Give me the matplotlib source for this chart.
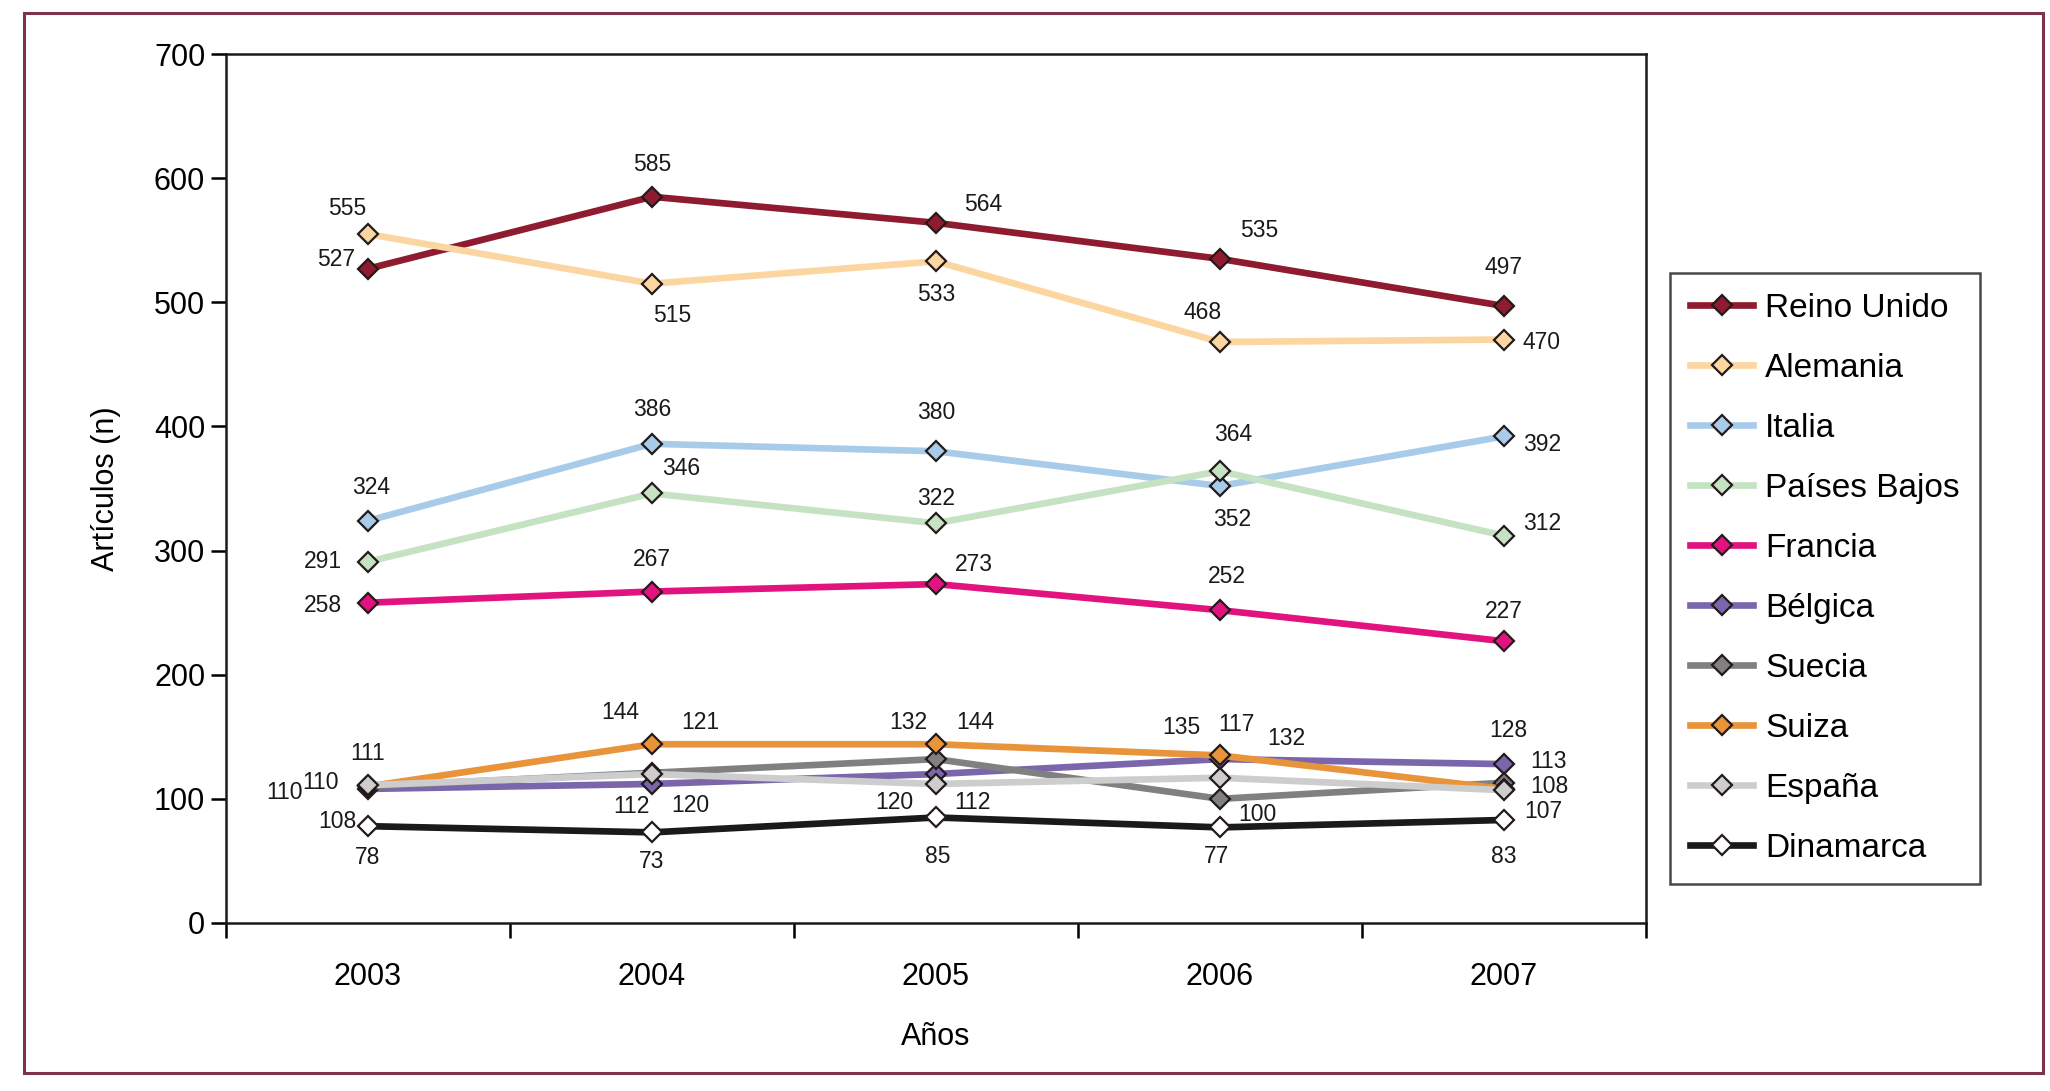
import matplotlib
matplotlib.use("Agg")
import matplotlib.pyplot as plt
from matplotlib import font_manager
from matplotlib.patches import Rectangle

# ---------------- data ----------------
years = ["2003", "2004", "2005", "2006", "2007"]
series_names = ["Reino Unido", "Alemania", "Italia", "Países Bajos", "Francia",
                "Bélgica", "Suecia", "Suiza", "España", "Dinamarca"]
reino_unido = [527, 585, 564, 535, 497]
alemania = [555, 515, 533, 468, 470]
italia = [324, 386, 380, 352, 392]
paises_bajos = [291, 346, 322, 364, 312]
francia = [258, 267, 273, 252, 227]
belgica = [108, 112, 120, 132, 128]
suecia = [110, 121, 132, 100, 113]
suiza = [110, 144, 144, 135, 108]
espana = [111, 120, 112, 117, 107]
dinamarca = [78, 73, 85, 77, 83]
y_ticks = [0, 100, 200, 300, 400, 500, 600, 700]

values = [reino_unido, alemania, italia, paises_bajos, francia,
          belgica, suecia, suiza, espana, dinamarca]

# ---------------- style ----------------
colors = ["#8E1B30", "#FBD6A0", "#A9CBEA", "#C5E3C3", "#E2127F",
          "#7B66AE", "#808080", "#E8943A", "#CDCDCD", "#1A1A1A"]
face = colors[:9] + ["#FFFFFF"]

# label offsets in pixels (dx, dy up)
offsets = [
    [(-32, 9), (0, 32), (47, 18), (39, 28), (0, 39)],
    [(-21, 26), (20, -32), (0, -33), (-17, 30), (38, -3)],
    [(3, 33), (0, 34), (0, 39), (12, -33), (38, -8)],
    [(-45, 0), (29, 25), (0, 25), (13, 37), (38, 12)],
    [(-45, -3), (0, 32), (38, 20), (7, 34), (0, 30)],
    [(-31, -33), (-21, -23), (-42, -28), (66, 21), (4, 34)],
    [(-47, 4), (48, 50), (-28, 37), (37, -16), (45, 21)],
    [(-84, -6), (-32, 32), (39, 22), (-39, 28), (45, 2)],
    [(0, 32), (38, -31), (36, -19), (16, 53), (39, -21)],
    [(0, -31), (0, -29), (2, -39), (-3, -29), (0, -37)],
]

avail = {f.name for f in font_manager.fontManager.ttflist}
fam = "Liberation Sans Narrow" if "Liberation Sans Narrow" in avail else "Liberation Sans"
plt.rcParams["font.family"] = [fam, "DejaVu Sans"]

fig = plt.figure(figsize=(20.5, 10.91), dpi=100)
ax = fig.add_axes([226 / 2050, 1 - 923 / 1091, (1646 - 226) / 2050, (923 - 54) / 1091])

x = list(range(len(years)))
for name, vals, c, fc, offs in zip(series_names, values, colors, face, offsets):
    ax.plot(x, vals, color=c, lw=4.8, marker="D", ms=10.5, mfc=fc,
            mec="#231a1a", mew=1.6, label=name, solid_joinstyle="round")
    for xi, v, (dx, dy) in zip(x, vals, offs):
        ax.annotate(str(v), (xi, v), xytext=(dx, dy), textcoords="offset pixels",
                    ha="center", va="center", fontsize=16.5, color="#1a1a1a")

ax.set_xlim(-0.5, len(years) - 0.5)
ax.set_ylim(0, 700)
ax.set_yticks(y_ticks)
ax.set_yticklabels([str(t) for t in y_ticks], fontsize=22)
ax.set_xticks(x)
ax.set_xticklabels(years, fontsize=22)
ax.tick_params(axis="x", which="major", length=0, pad=28)
ax.set_xticks([i - 0.5 for i in range(len(years) + 1)], minor=True)
ax.tick_params(axis="x", which="minor", length=11, width=1.8, direction="out")
ax.tick_params(axis="y", length=11, width=1.8, direction="out", pad=4)
for s in ax.spines.values():
    s.set_linewidth(1.8)
    s.set_color("#1a1a1a")

ax.set_xlabel("Años", fontsize=22, labelpad=22)
ax.set_ylabel("Artículos (n)", fontsize=22, labelpad=24)

leg = fig.legend(loc="upper left", bbox_to_anchor=(1670 / 2050, 1 - 273 / 1091),
                 fontsize=24, frameon=True, fancybox=False, edgecolor="#1a1a1a",
                 handlelength=1.9, handletextpad=0.35, labelspacing=0.87,
                 borderpad=0.6, borderaxespad=0)
leg.get_frame().set_linewidth(1.8)

fig.patches.append(Rectangle((24 / 2050, 1 - 1073 / 1091), (2043 - 24) / 2050,
                             (1073 - 13) / 1091, transform=fig.transFigure,
                             fill=False, edgecolor="#7D3350", lw=2.2))

fig.savefig("out.png", dpi=100)
